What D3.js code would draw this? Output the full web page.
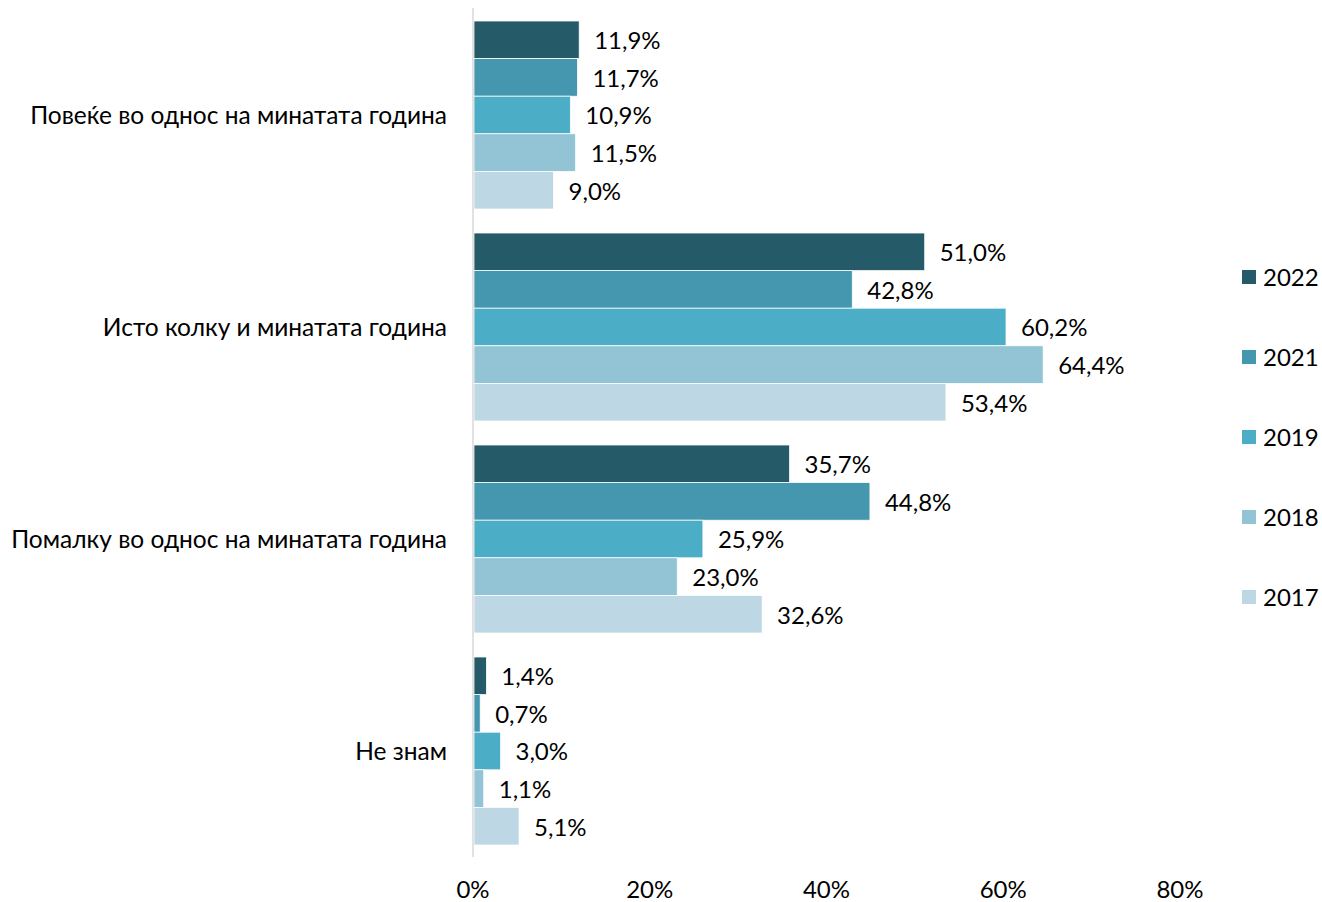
<!DOCTYPE html>
<html><head><meta charset="utf-8">
<script src="https://cdn.jsdelivr.net/npm/d3@7"></script>
<style>body{margin:0;background:#fff}svg{display:block}text{font-family:Lato,"Open Sans",sans-serif;fill:#000}</style>
</head><body><svg id="c" width="1322" height="902"></svg>
<script>
const categories = ["Повеќе во однос на минатата година","Исто колку и минатата година","Помалку во однос на минатата година","Не знам"];
const years = ["2022","2021","2019","2018","2017"];
const colors = ["#255A69","#4497AE","#4BADC6","#93C4D5","#BDD8E4"];
const v2022 = [11.9,51.0,35.7,1.4];
const v2021 = [11.7,42.8,44.8,0.7];
const v2019 = [10.9,60.2,25.9,3.0];
const v2018 = [11.5,64.4,23.0,1.1];
const v2017 = [9.0,53.4,32.6,5.1];
const series = [v2022,v2021,v2019,v2018,v2017];
const ticks = [0,20,40,60,80];

const svg = d3.select("#c");
const x = d3.scaleLinear().domain([0,80]).range([473,1180]);
const y0 = d3.scaleBand().domain(categories).range([9,857]).paddingInner(24/212).paddingOuter(12/212);
const y1 = d3.scaleBand().domain(years).range([0,y0.bandwidth()]);
const fmt = v => v.toFixed(1).replace(".",",")+"%";

const g = svg.append("g");
categories.forEach((c,ci)=>{
  years.forEach((yr,si)=>{
    const v = series[si][ci];
    const yy = y0(c)+y1(yr);
    g.append("rect").attr("x",x(0)+1).attr("y",yy).attr("width",x(v)-x(0)).attr("height",y1.bandwidth())
      .attr("fill",colors[si]).attr("stroke","#fff").attr("stroke-width",0.75);
    g.append("text").attr("x",x(v)+16).attr("y",yy+y1.bandwidth()/2+1).attr("dy","0.35em")
      .attr("font-size",24).text(fmt(v));
  });
  svg.append("text").attr("x",447).attr("y",y0(c)+y0.bandwidth()/2).attr("dy","0.35em")
    .attr("text-anchor","end").attr("font-size",24.5).text(c);
});
svg.append("line").attr("x1",473).attr("x2",473).attr("y1",8).attr("y2",857).attr("stroke","#d9d9d9").attr("stroke-width",1.5);

const ax = svg.append("g").attr("transform","translate(0,890)");
ax.selectAll("text").data(ticks).join("text").attr("x",d=>x(d)).attr("dy","0.35em")
  .attr("text-anchor","middle").attr("font-size",24).text(d=>d+"%");

const lg = svg.append("g");
years.forEach((yr,i)=>{
  const yy = 277+i*80;
  lg.append("rect").attr("x",1242).attr("y",yy-7).attr("width",14).attr("height",14).attr("fill",colors[i]);
  lg.append("text").attr("x",1263).attr("y",yy+1).attr("dy","0.35em").attr("font-size",24).text(yr);
});
</script></body></html>
